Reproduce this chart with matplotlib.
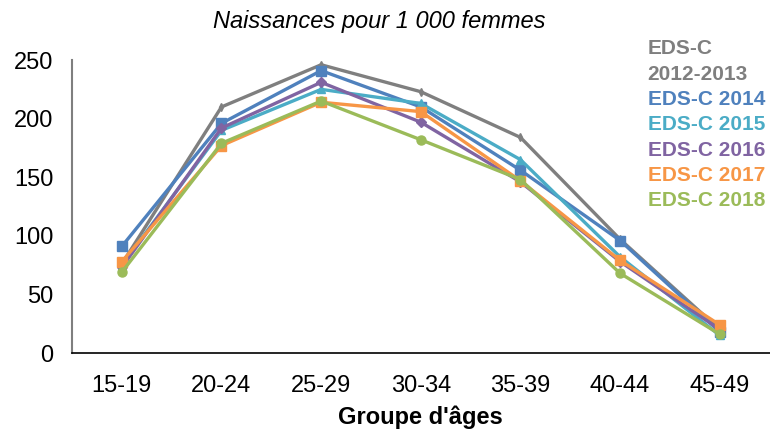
import matplotlib.pyplot as plt

plt.rcParams['font.family'] = ['Liberation Sans', 'DejaVu Sans']

# Groupes d'ages et taux (naissances pour 1 000 femmes)
groupes = ['15-19', '20-24', '25-29', '30-34', '35-39', '40-44', '45-49']
eds_2012 = [76, 210, 246, 223, 184, 97, 20]
eds_2014 = [91, 196, 241, 210, 156, 96, 18]
eds_2015 = [75, 190, 225, 213, 165, 82, 15]
eds_2016 = [73, 192, 231, 197, 146, 78, 20]
eds_2017 = [78, 177, 214, 206, 147, 79, 24]
eds_2018 = [69, 179, 215, 182, 148, 68, 16]

series = [eds_2012, eds_2014, eds_2015, eds_2016, eds_2017, eds_2018]
noms = ['EDS-C\n2012-2013', 'EDS-C 2014', 'EDS-C 2015', 'EDS-C 2016',
        'EDS-C 2017', 'EDS-C 2018']
couleurs = ['#7F7F7F', '#4F81BD', '#4BACC6', '#8064A2', '#F79646', '#9BBB59']
marqueurs = ['d', 's', '^', 'D', 's', 'o']
tailles = [4, 6.5, 6, 5, 7, 6.5]

fig = plt.figure(figsize=(7.7, 4.34), dpi=100)
ax = fig.add_axes([0.0935, 0.1866, 0.906, 0.675])

x = range(len(groupes))
for y, nom, c, m, ms in zip(series, noms, couleurs, marqueurs, tailles):
    ax.plot(x, y, color=c, marker=m, markersize=ms, linewidth=2.4, label=nom)

ax.set_xlim(-0.5, len(groupes) - 0.5)
ax.set_ylim(0, 250)
ax.set_yticks([0, 50, 100, 150, 200, 250])
ax.set_xticks(list(x))
ax.set_xticklabels(groupes)
ax.tick_params(length=0, labelsize=17)
ax.tick_params(axis='x', pad=16)
ax.tick_params(axis='y', pad=13.5)

for s in ['top', 'right']:
    ax.spines[s].set_visible(False)
ax.spines['left'].set_color('#7F7F7F')
ax.spines['left'].set_linewidth(1.5)
ax.spines['bottom'].set_color('black')
ax.spines['bottom'].set_linewidth(1.2)

fig.text(0.492, 0.951, 'Naissances pour 1 000 femmes', style='italic',
         fontsize=17, ha='center', va='center')
ax.set_xlabel("Groupe d'âges", fontsize=17, fontweight='bold', labelpad=6)

leg = ax.legend(handlelength=0, handletextpad=0, frameon=False,
                labelcolor='linecolor', prop={'size': 15, 'weight': 'bold'},
                loc='upper left', bbox_to_anchor=(0.841, 0.91),
                bbox_transform=fig.transFigure, labelspacing=0.3,
                borderaxespad=0, borderpad=0)
for h in leg.legend_handles:
    h.set_visible(False)
leg.get_texts()[0].set_linespacing(1.45)

fig.savefig('out.png', dpi=100)
